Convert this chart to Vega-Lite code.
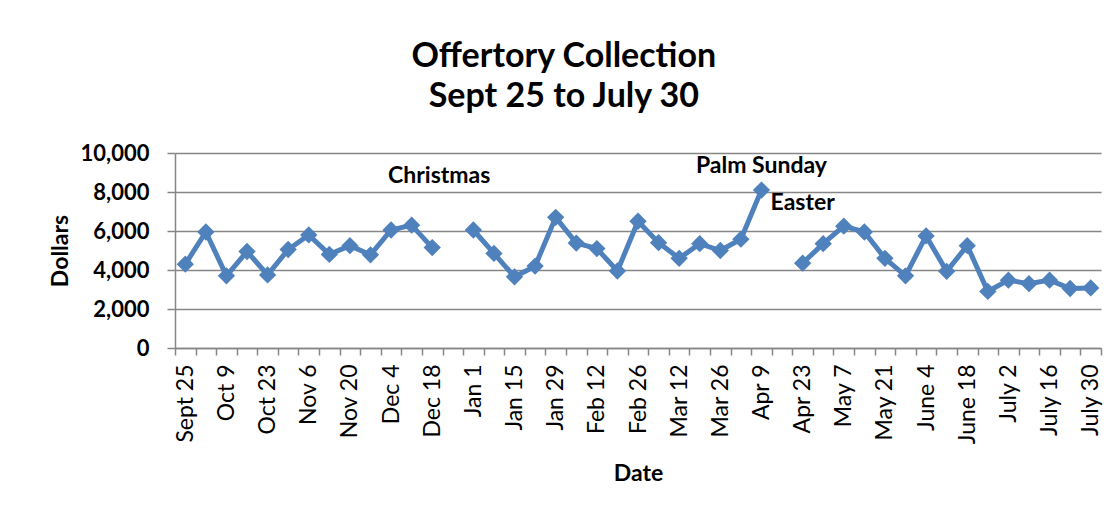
{
  "$schema": "https://vega.github.io/schema/vega-lite/v6.json",
  "width": 926,
  "height": 195,
  "padding": {"left": 49, "top": 40, "right": 10, "bottom": 10},
  "background": "white",
  "title": {
    "text": ["Offertory Collection", "Sept 25 to July 30"],
    "font": "Lato",
    "fontSize": 34,
    "fontWeight": "bold",
    "lineHeight": 40,
    "color": "black",
    "anchor": "middle",
    "frame": "bounds",
    "offset": 28,
    "dx": -12
  },
  "config": {
    "view": {"stroke": null},
    "font": "Lato",
    "axis": {
      "titleFont": "Lato",
      "titleFontSize": 23,
      "titleFontWeight": "bold",
      "titleColor": "black",
      "labelFont": "Lato",
      "labelColor": "black",
      "labelOverlap": false,
      "tickWidth": 1.5,
      "tickColor": "#868686",
      "domainColor": "#868686",
      "domainWidth": 1.5,
      "gridColor": "#868686",
      "gridWidth": 1.5
    }
  },
  "datasets": {
    "weeks": [
      {"week": "Sept 25", "dollars": 4300},
      {"week": "Oct 2", "dollars": 5950},
      {"week": "Oct 9", "dollars": 3700},
      {"week": "Oct 16", "dollars": 4950},
      {"week": "Oct 23", "dollars": 3750},
      {"week": "Oct 30", "dollars": 5050},
      {"week": "Nov 6", "dollars": 5800},
      {"week": "Nov 13", "dollars": 4800},
      {"week": "Nov 20", "dollars": 5250},
      {"week": "Nov 27", "dollars": 4780},
      {"week": "Dec 4", "dollars": 6050},
      {"week": "Dec 11", "dollars": 6300},
      {"week": "Dec 18", "dollars": 5150},
      {"week": "Dec 25", "dollars": null},
      {"week": "Jan 1", "dollars": 6050},
      {"week": "Jan 8", "dollars": 4850},
      {"week": "Jan 15", "dollars": 3650},
      {"week": "Jan 22", "dollars": 4200},
      {"week": "Jan 29", "dollars": 6700},
      {"week": "Feb 5", "dollars": 5380},
      {"week": "Feb 12", "dollars": 5100},
      {"week": "Feb 19", "dollars": 3950},
      {"week": "Feb 26", "dollars": 6500},
      {"week": "Mar 5", "dollars": 5400},
      {"week": "Mar 12", "dollars": 4600},
      {"week": "Mar 19", "dollars": 5350},
      {"week": "Mar 26", "dollars": 5000},
      {"week": "Apr 2", "dollars": 5580},
      {"week": "Apr 9", "dollars": 8100},
      {"week": "Apr 16", "dollars": null},
      {"week": "Apr 23", "dollars": 4350},
      {"week": "Apr 30", "dollars": 5350},
      {"week": "May 7", "dollars": 6250},
      {"week": "May 14", "dollars": 5950},
      {"week": "May 21", "dollars": 4600},
      {"week": "May 28", "dollars": 3700},
      {"week": "June 4", "dollars": 5750},
      {"week": "June 11", "dollars": 3930},
      {"week": "June 18", "dollars": 5250},
      {"week": "June 25", "dollars": 2900},
      {"week": "July 2", "dollars": 3480},
      {"week": "July 9", "dollars": 3300},
      {"week": "July 16", "dollars": 3480},
      {"week": "July 23", "dollars": 3050},
      {"week": "July 30", "dollars": 3080}
    ],
    "notes": [
      {"week": "Apr 9", "dollars": 9350, "note": "Palm Sunday"},
      {"week": "Apr 23", "dollars": 7450, "note": "Easter"}
    ],
    "notes2": [
      {"week": "Dec 18", "dollars": 8800, "note": "Christmas"}
    ]
  },
  "layer": [
    {
      "data": {"name": "weeks"},
      "mark": {
        "type": "line",
        "color": "#4F81BD",
        "strokeWidth": 5,
        "point": {"shape": "diamond", "size": 300, "filled": true, "color": "#4F81BD", "opacity": 1}
      },
      "encoding": {
        "x": {
          "field": "week",
          "type": "nominal",
          "sort": null,
          "bandPosition": 0.5,
          "scale": {"type": "band", "paddingInner": 0, "paddingOuter": 0},
          "axis": {
            "title": "Date",
            "titlePadding": 19,
            "labelAngle": -90,
            "labelFontSize": 23,
            "labelPadding": 9,
            "labelExpr": "indexof(domain('x'), datum.value) % 2 === 0 ? datum.value : ''",
            "tickBand": "extent",
            "tickSize": 7,
            "grid": false
          }
        },
        "y": {
          "field": "dollars",
          "type": "quantitative",
          "scale": {"domain": [0, 10000], "nice": false},
          "axis": {
            "title": "Dollars",
            "titlePadding": 8,
            "values": [0, 2000, 4000, 6000, 8000, 10000],
            "tickCount": 10,
            "format": ",d",
            "labelFontSize": 22,
            "labelFontWeight": "bold",
            "labelPadding": 18,
            "tickSize": 8,
            "grid": true
          }
        }
      }
    },
    {
      "data": {"name": "notes"},
      "mark": {"type": "text", "font": "Lato", "fontSize": 23, "fontWeight": "bold", "color": "black", "align": "center", "baseline": "middle"},
      "encoding": {
        "x": {"field": "week", "type": "nominal", "sort": null, "bandPosition": 0.5},
        "y": {"field": "dollars", "type": "quantitative"},
        "text": {"field": "note", "type": "nominal"}
      }
    },
    {
      "data": {"name": "notes2"},
      "mark": {"type": "text", "font": "Lato", "fontSize": 23, "fontWeight": "bold", "color": "black", "align": "center", "baseline": "middle", "dx": 7},
      "encoding": {
        "x": {"field": "week", "type": "nominal", "sort": null, "bandPosition": 0.5},
        "y": {"field": "dollars", "type": "quantitative"},
        "text": {"field": "note", "type": "nominal"}
      }
    }
  ]
}
